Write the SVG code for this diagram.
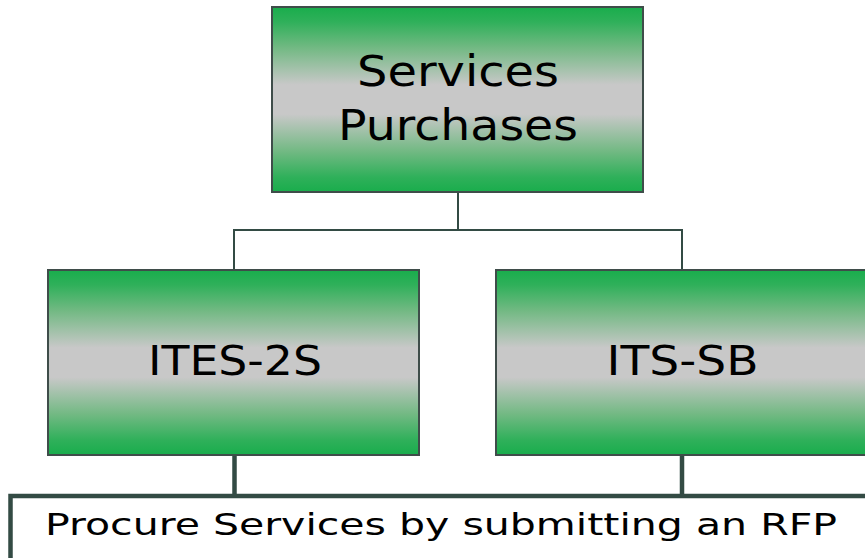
<svg xmlns="http://www.w3.org/2000/svg" width="865" height="558" viewBox="0 0 865 558">
<defs>
<linearGradient id="g" x1="0" y1="0" x2="0" y2="1">
<stop offset="0" stop-color="#19ad4c"/>
<stop offset="0.08" stop-color="#2fb05a"/>
<stop offset="0.22" stop-color="#72b983"/>
<stop offset="0.42" stop-color="#c8c8c8"/>
<stop offset="0.58" stop-color="#c8c8c8"/>
<stop offset="0.78" stop-color="#72b983"/>
<stop offset="0.92" stop-color="#2fb05a"/>
<stop offset="1" stop-color="#19ad4c"/>
</linearGradient>
</defs>
<style>
.box{fill:url(#g);stroke:#3f4d4a;stroke-width:2}
.t{font-family:"DejaVu Sans",Verdana,sans-serif;fill:#000;text-anchor:middle}
.thin{stroke:#334b44;stroke-width:2;fill:none}
.thick{stroke:#334b44;stroke-width:4.5;fill:none}
</style>
<g id="connectors">
<path class="thin" d="M458 192V230M234 230H682M234 229V270M682 229V270"/>
<path class="thick" d="M234.5 455V496M682 455V496"/>
</g>
<g id="services-purchases">
<rect class="box" x="272" y="7" width="371" height="185"/>
<text class="t" x="458" y="86" font-size="43" textLength="202" lengthAdjust="spacingAndGlyphs">Services</text>
<text class="t" x="458" y="140" font-size="43" textLength="240" lengthAdjust="spacingAndGlyphs">Purchases</text>
</g>
<g id="ites-2s">
<rect class="box" x="48" y="270" width="371" height="185"/>
<text class="t" x="235" y="375" font-size="41" textLength="174" lengthAdjust="spacingAndGlyphs">ITES-2S</text>
</g>
<g id="its-sb">
<rect class="box" x="496" y="270" width="371" height="185"/>
<text class="t" x="682.5" y="375" font-size="41" textLength="152" lengthAdjust="spacingAndGlyphs">ITS-SB</text>
</g>
<g id="procure">
<rect x="10.5" y="496" width="870" height="80" fill="#fff" stroke="#334b44" stroke-width="4.5"/>
<text class="t" x="441" y="535" font-size="30" textLength="792" lengthAdjust="spacingAndGlyphs">Procure Services by submitting an RFP</text>
</g>
</svg>
